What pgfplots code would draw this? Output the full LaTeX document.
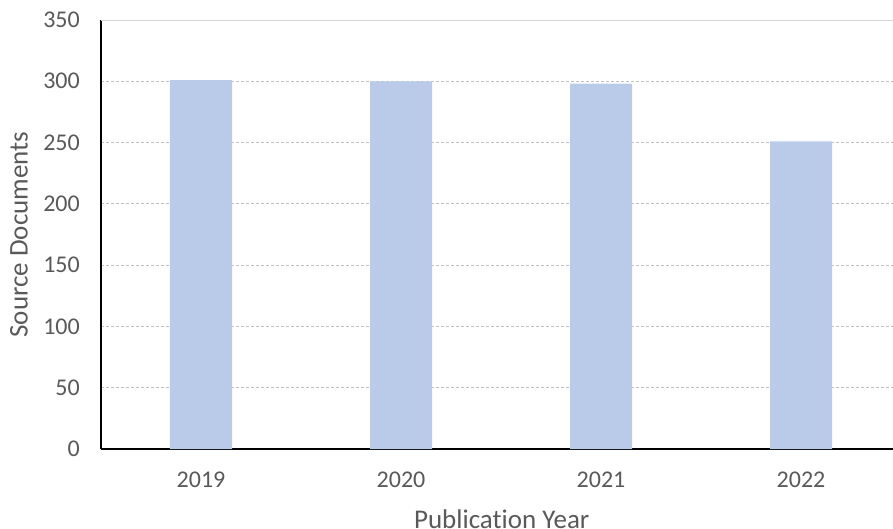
\documentclass[border=0pt]{standalone}
\usepackage{pgfplots}
\pgfplotsset{compat=1.18}
\usepackage{fontspec}
\setmainfont[Ligatures=NoCommon]{Carlito}
\definecolor{barblue}{HTML}{B9CBE8}
\definecolor{txtgray}{HTML}{595959}
\definecolor{gridgray}{HTML}{BFBFBF}
\begin{document}
\begin{tikzpicture}
\begin{axis}[
  scale only axis,
  width=792pt, height=429pt,
  xmin=-0.5, xmax=3.46,
  ymin=0, ymax=350,
  axis lines*=left,
  axis line style={black, line width=2pt, -},
  ybar, bar width=62pt,
  xtick={0,1,2,3},
  xticklabels={2019,2020,2021,2022},
  ytick={0,50,...,300},
  extra y ticks={350},
  extra y tick style={grid=major, major grid style={solid, gridgray!60, line width=1pt}},
  ymajorgrids,
  major grid style={densely dashed, gridgray, line width=1pt},
  major tick length=0pt,
  tick style={draw=none},
  /pgf/number format/assume math mode=true,
  ticklabel style={font=\fontsize{24}{28}\selectfont, text=txtgray, inner sep=0pt},
  xticklabel style={anchor=center, yshift=-31pt},
  yticklabel style={anchor=east, xshift=-21pt},
  xlabel={Publication Year},
  ylabel={Source Documents},
  label style={font=\fontsize{27}{31}\selectfont, text=txtgray},
  xlabel style={at={(axis description cs:0.506,-0.163)}, anchor=center},
  ylabel style={at={(axis description cs:-0.1035,0.5)}, anchor=center},
]
\addplot[fill=barblue, draw=none, bar shift=0pt] coordinates {(0,301) (1,300) (2,298) (3,251)};
\end{axis}
\pgfresetboundingbox
\path ([xshift=-101pt,yshift=-79pt]current axis.south west) rectangle ([yshift=20pt]current axis.north east);
\end{tikzpicture}
\end{document}
